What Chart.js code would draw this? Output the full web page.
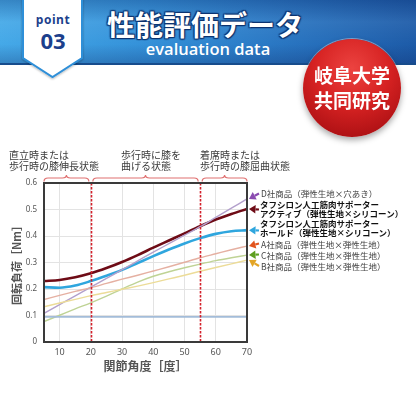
<!DOCTYPE html>
<html>
<head>
<meta charset="utf-8">
<script src="https://cdn.jsdelivr.net/npm/chart.js@4"></script>
<style>
  html,body{margin:0;padding:0;background:#fff;}
  #wrap{position:relative;width:416px;height:416px;overflow:hidden;background:#fff;font-family:"Noto Sans CJK JP","Noto Sans",sans-serif;}
  #c{position:absolute;left:0;top:0;}
  .abs{position:absolute;white-space:nowrap;}
  #band{left:0;top:0;width:416px;height:63px;
    background:linear-gradient(to bottom, rgba(10,30,90,0.25) 0%, rgba(255,255,255,0.06) 35%, rgba(255,255,255,0) 70%, rgba(10,30,90,0.25) 100%),
               linear-gradient(to right, #45a9e8 0%, #3491d9 35%, #2a78c4 65%, #1d5ba8 100%);
    border-bottom:2px solid #174c8c;}
  .lbl{font-size:10px;line-height:11px;color:#3a3a3a;}
  .leg{font-size:8.5px;line-height:9.5px;color:#444;}
  .legb{font-size:8.5px;line-height:9.5px;color:#111;font-weight:bold;}
</style>
</head>
<body>
<div id="wrap">
  <canvas id="c" width="416" height="416"></canvas>
  <div id="band" class="abs"></div>
  <svg class="abs" style="left:0;top:0;" width="120" height="90">
    <defs>
      <filter id="sh" x="-20%" y="-20%" width="140%" height="140%">
        <feDropShadow dx="0" dy="1" stdDeviation="1.2" flood-color="#000" flood-opacity="0.3"/>
      </filter>
    </defs>
    <polygon points="23,-2 82,-2 82,58 52.5,77 23,58" fill="#fff" stroke="#2f8fd8" stroke-width="2" filter="url(#sh)"/>
  </svg>
  <div class="abs" style="left:23px;width:60px;top:13px;text-align:center;font-family:'Open Sans',sans-serif;font-weight:700;font-size:12px;line-height:14px;color:#1c3f8c;letter-spacing:0.5px;">point</div>
  <div class="abs" style="left:23px;width:60px;top:27px;text-align:center;font-family:'Open Sans',sans-serif;font-weight:700;font-size:22px;line-height:26px;color:#1c3f8c;">03</div>
  <div class="abs" style="left:107px;top:7px;font-size:28px;line-height:34px;font-weight:bold;color:#fff;letter-spacing:0px;text-shadow:0 0 2px #0d3470,1px 1px 1px #0d3470,-1px -1px 1px #0d3470,1px -1px 1px #0d3470,-1px 1px 1px #0d3470;">性能評価データ</div>
  <div class="abs" style="left:120px;width:176px;top:38px;text-align:center;font-family:'Open Sans',sans-serif;font-weight:600;font-size:16.5px;line-height:22px;color:#fff;">evaluation data</div>
  <div class="abs" style="left:303px;top:39px;width:98px;height:98px;border-radius:50%;background:radial-gradient(circle at 50% 30%, #ec4340 0%, #d62222 45%, #b01215 80%, #8f0b0e 100%);box-shadow:0 3px 6px rgba(0,0,0,0.35), 0 0 0 1px rgba(255,255,255,0.4);"></div>
  <div class="abs" style="left:303px;width:98px;top:62px;text-align:center;font-size:19px;line-height:25px;font-weight:bold;color:#fff;">岐阜大学<br>共同研究</div>

  <div class="abs lbl" style="left:9px;top:149px;">直立時または<br>歩行時の膝伸長状態</div>
  <div class="abs lbl" style="left:121px;top:149px;">歩行時に膝を<br>曲げる状態</div>
  <div class="abs lbl" style="left:200px;top:149px;">着席時または<br>歩行時の膝屈曲状態</div>

  <div class="abs leg" style="left:261px;top:188.5px;">D社商品（弾性生地×穴あき）</div>
  <div class="abs legb" style="left:260px;top:199.5px;">タフシロン人工筋肉サポーター<br>アクティブ（弾性生地×シリコーン）</div>
  <div class="abs legb" style="left:260px;top:218.5px;">タフシロン人工筋肉サポーター<br>ホールド（弾性生地×シリコーン）</div>
  <div class="abs leg" style="left:261px;top:239.5px;">A社商品（弾性生地×弾性生地）</div>
  <div class="abs leg" style="left:261px;top:250.5px;">C社商品（弾性生地×弾性生地）</div>
  <div class="abs leg" style="left:261px;top:262px;">B社商品（弾性生地×弾性生地）</div>
</div>
<script>
// ---- data ----
const angles = [5,10,15,20,25,30,35,40,45,50,55,60,65,70];
const tafuActive = [0.230,0.234,0.244,0.259,0.279,0.302,0.328,0.356,0.383,0.410,0.437,0.462,0.483,0.502];
const tafuHold   = [0.207,0.205,0.213,0.230,0.250,0.272,0.298,0.324,0.349,0.372,0.392,0.408,0.418,0.422];
const productD   = [0.108,0.141,0.174,0.207,0.240,0.273,0.306,0.339,0.371,0.403,0.435,0.470,0.505,0.540];
const productA   = [0.160,0.176,0.191,0.205,0.221,0.237,0.252,0.268,0.284,0.301,0.318,0.333,0.348,0.362];
const productC   = [0.077,0.101,0.125,0.148,0.173,0.200,0.226,0.248,0.265,0.280,0.294,0.307,0.318,0.328];
const productB   = [0.133,0.147,0.161,0.175,0.187,0.199,0.211,0.224,0.238,0.252,0.267,0.281,0.295,0.309];
const baseline   = [0.095,0.095,0.095,0.095,0.095,0.095,0.095,0.095,0.095,0.095,0.095,0.095,0.095,0.095];
const xTicks = [10,20,30,40,50,60,70];
const phaseBounds = [5,20,55,70];
const xTitle = "関節角度［度］";
const yTitle = "回転負荷［Nm］";
// arrow tails: label y positions
const arrowLabelY = [193.5, 209.5, 230.5, 243.5, 254.5, 266];

function pts(arr){ return angles.map((a,i)=>({x:a,y:arr[i]})); }

const series = [
  {label:"ベース", data:baseline, color:"#a3bcd9", w:1.6},
  {label:"B社商品", data:productB, color:"#ecdc98", w:1.4, arrow:"#e3a526", li:5},
  {label:"C社商品", data:productC, color:"#bfd395", w:1.4, arrow:"#5e9f1f", li:4},
  {label:"A社商品", data:productA, color:"#e5b0a2", w:1.4, arrow:"#e2541c", li:3},
  {label:"D社商品", data:productD, color:"#b3a0cc", w:1.4, arrow:"#8a4bb0", li:0},
  {label:"ホールド", data:tafuHold, color:"#2fa6de", w:2.6, arrow:"#2fa6de", li:2},
  {label:"アクティブ", data:tafuActive, color:"#6e0b16", w:2.6, arrow:"#6e0b16", li:1},
];

const decor = {
  id:'decor',
  afterDatasetsDraw(chart){
    const {ctx, chartArea:a, scales:{x,y}} = chart;
    ctx.save();
    ctx.strokeStyle = '#d3212b'; ctx.lineWidth = 1.6; ctx.setLineDash([2.5,1.5]);
    [phaseBounds[1], phaseBounds[2]].forEach(v=>{
      const px = Math.round(x.getPixelForValue(v))+0.5;
      ctx.beginPath(); ctx.moveTo(px, a.top); ctx.lineTo(px, a.bottom); ctx.stroke();
    });
    ctx.setLineDash([]);
    ctx.strokeStyle = '#3a3a3a'; ctx.lineWidth = 2;
    ctx.strokeRect(a.left, a.top, a.right-a.left, a.bottom-a.top);
    ctx.strokeStyle = '#e07070'; ctx.lineWidth = 1.2;
    for(let i=0;i<3;i++){
      let x1 = x.getPixelForValue(phaseBounds[i]) + (i>0?2:0);
      let x2 = x.getPixelForValue(phaseBounds[i+1]) - (i<2?2:0);
      const xm = (x1+x2)/2, yb = a.top-1.5, ym = a.top-5, yt = a.top-8;
      ctx.beginPath();
      ctx.moveTo(x1, yb);
      ctx.quadraticCurveTo(x1, ym, x1+4, ym);
      ctx.lineTo(xm-4, ym);
      ctx.quadraticCurveTo(xm, ym, xm, yt);
      ctx.quadraticCurveTo(xm, ym, xm+4, ym);
      ctx.lineTo(x2-4, ym);
      ctx.quadraticCurveTo(x2, ym, x2, yb);
      ctx.stroke();
    }
    series.forEach(s=>{
      if(!s.arrow) return;
      const hx = x.getPixelForValue(angles[angles.length-1]) + 2;
      const hy = y.getPixelForValue(s.data[s.data.length-1]);
      const tx = 259, ty = arrowLabelY[s.li];
      const ang = Math.atan2(hy-ty, hx-tx);
      ctx.strokeStyle = s.arrow; ctx.fillStyle = s.arrow; ctx.lineWidth = 2.2;
      const bx = hx - Math.cos(ang)*6.5, by = hy - Math.sin(ang)*6.5;
      ctx.beginPath(); ctx.moveTo(tx,ty); ctx.lineTo(bx,by); ctx.stroke();
      ctx.beginPath();
      ctx.moveTo(hx,hy);
      ctx.lineTo(bx + Math.cos(ang+Math.PI/2)*4.2, by + Math.sin(ang+Math.PI/2)*4.2);
      ctx.lineTo(bx - Math.cos(ang+Math.PI/2)*4.2, by - Math.sin(ang+Math.PI/2)*4.2);
      ctx.closePath(); ctx.fill();
    });
    ctx.restore();
  }
};

new Chart(document.getElementById('c'), {
  type:'line',
  data:{
    datasets: series.map(s=>({
      label:s.label, data:pts(s.data), borderColor:s.color, backgroundColor:s.color,
      borderWidth:s.w, pointRadius:0, cubicInterpolationMode:'monotone', fill:false
    }))
  },
  options:{
    responsive:false, animation:false,
    layout:{padding:{left:10, top:183, right:169, bottom:42}},
    plugins:{legend:{display:false}, tooltip:{enabled:false}},
    scales:{
      x:{
        type:'linear', min:5, max:70,
        afterBuildTicks(scale){ scale.ticks = xTicks.map(v=>({value:v})); },
        afterFit(scale){ scale.height = 32; },
        grid:{color:'#e3e3e3', lineWidth:1, drawTicks:false},
        border:{display:false},
        ticks:{padding:5, color:'#555', font:{size:9, family:'"Noto Sans","Noto Sans CJK JP",sans-serif'}, autoSkip:false, maxRotation:0},
        title:{display:true, text:xTitle, color:'#555', padding:0, font:{size:12, weight:'bold', family:'"Noto Sans CJK JP",sans-serif'}}
      },
      y:{
        min:0, max:0.6,
        ticks:{stepSize:0.1, padding:7, color:'#555', font:{size:8, family:'"Noto Sans","Noto Sans CJK JP",sans-serif'},
          callback:v=> Math.abs(v)<1e-9 ? '0' : v.toFixed(1)},
        afterFit(scale){ scale.width = 34; },
        grid:{color:'#e3e3e3', lineWidth:1, drawTicks:false},
        border:{display:false},
        title:{display:true, text:yTitle, color:'#555', padding:0, font:{size:11, weight:'bold', family:'"Noto Sans CJK JP",sans-serif'}}
      }
    }
  },
  plugins:[decor]
});
</script>
</body>
</html>
